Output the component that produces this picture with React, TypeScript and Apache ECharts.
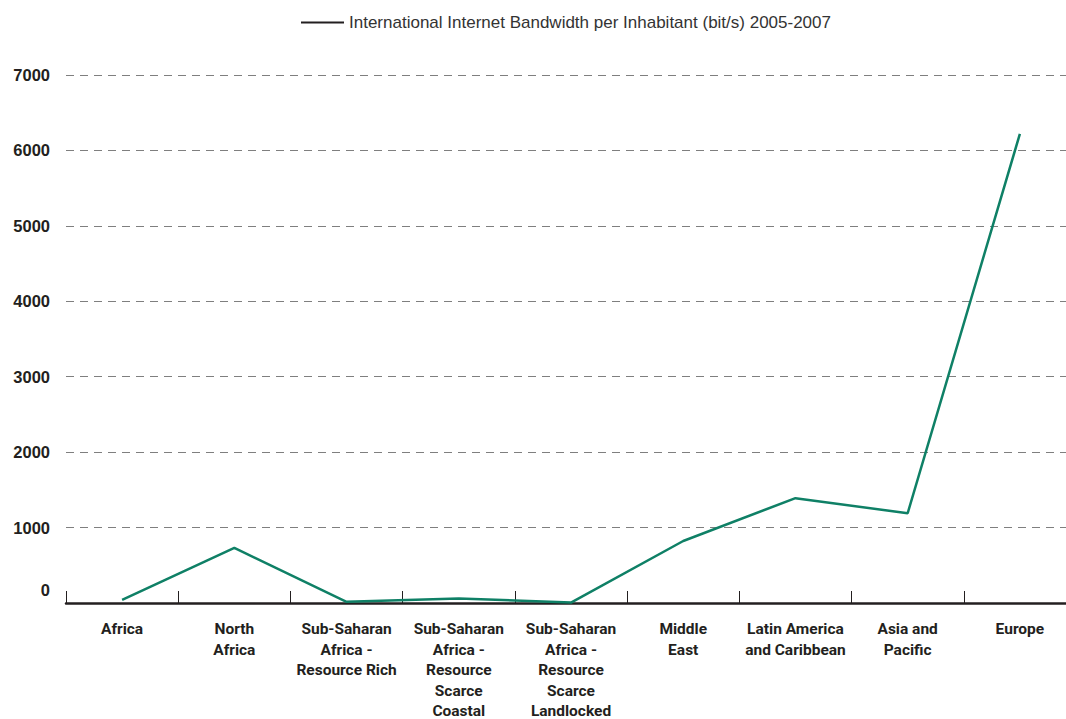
import React, { useEffect, useRef } from "react";
import * as echarts from "echarts";

const seriesName = "International Internet Bandwidth per Inhabitant (bit/s) 2005-2007";
const categories = [
  "Africa",
  "North\nAfrica",
  "Sub-Saharan\nAfrica -\nResource Rich",
  "Sub-Saharan\nAfrica -\nResource\nScarce\nCoastal",
  "Sub-Saharan\nAfrica -\nResource\nScarce\nLandlocked",
  "Middle\nEast",
  "Latin America\nand Caribbean",
  "Asia and\nPacific",
  "Europe",
];
const values = [40, 730, 15, 60, 5, 822, 1390, 1190, 6220];
const yMin = 0;
const yMax = 7000;
const yInterval = 1000;

export default function App() {
  const ref = useRef<HTMLDivElement>(null);
  useEffect(() => {
    if (!ref.current) return;
    const chart = echarts.init(ref.current, undefined, { renderer: "svg" });
    chart.setOption({
      animation: false,
      backgroundColor: "#ffffff",
      legend: {
        top: 9,
        left: 296,
        icon: "rect",
        itemWidth: 43,
        itemHeight: 2,
        itemGap: 8,
        textStyle: { fontFamily: "Liberation Sans", fontSize: 17, color: "#333333" },
        data: [
          {
            name: seriesName,
            icon: "rect",
            itemStyle: { color: "#231f20" },
          },
        ],
      },
      grid: {
        left: 66,
        right: 0,
        top: 75,
        bottom: 116,
        containLabel: false,
        outerBoundsMode: "none",
      },
      xAxis: {
        type: "category",
        data: categories,
        boundaryGap: true,
        axisLine: { lineStyle: { color: "#231f20", width: 2.5 } },
        axisTick: { show: true, inside: true, length: 12, lineStyle: { color: "#231f20", width: 1 } },
        axisLabel: {
          interval: 0,
          margin: 16,
          fontFamily: "Roboto",
          fontWeight: "bold",
          fontSize: 15.5,
          lineHeight: 20.5,
          color: "#231f20",
        },
      },
      yAxis: {
        type: "value",
        min: yMin,
        max: yMax,
        interval: yInterval,
        axisLine: { show: false },
        axisTick: { show: false },
        splitLine: { lineStyle: { color: "#7f7f7f", width: 1.2, type: [8, 6] } },
        axisLabel: {
          margin: 16,
          fontFamily: "Liberation Sans",
          fontWeight: "bold",
          fontSize: 16.5,
          color: "#231f20",
          formatter: (v: number) => (v === 0 ? "{z|0}" : String(v)),
          rich: {
            z: {
              fontFamily: "Liberation Sans",
              fontWeight: "bold",
              fontSize: 16.5,
              color: "#231f20",
              padding: [0, 0, 26, 0],
            },
          },
        },
      },
      series: [
        {
          name: seriesName,
          type: "line",
          data: values,
          symbol: "none",
          lineStyle: { color: "#0f8066", width: 2.5 },
          itemStyle: { color: "#0f8066" },
        },
      ],
    });
    return () => chart.dispose();
  }, []);
  return (
    <div style={{ position: "absolute", left: 0, top: 0, width: 1066, height: 719, overflow: "hidden" }}>
      <div ref={ref} style={{ width: 1076, height: 719 }} />
    </div>
  );
}
